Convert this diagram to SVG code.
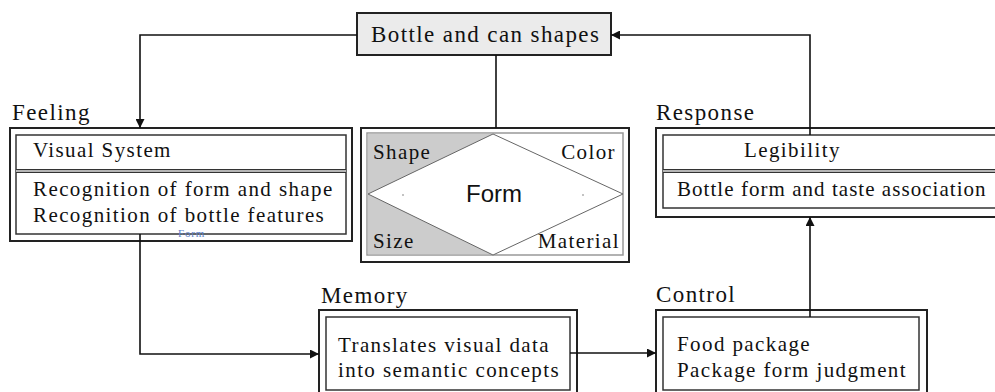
<svg xmlns="http://www.w3.org/2000/svg" width="995" height="392" viewBox="0 0 995 392">
  <defs>
    <marker id="arrow" viewBox="0 0 10 10" refX="10" refY="5" markerWidth="10" markerHeight="9" markerUnits="userSpaceOnUse" orient="auto">
      <path d="M0,0 L10,5 L0,10 Z" fill="#111"/>
    </marker>
  </defs>
  <style>
    .outer { fill: #fff; stroke: #222; stroke-width: 2; }
    .inner { fill: #fff; stroke: #333; stroke-width: 1.5; }
    .divider { stroke: #333; stroke-width: 1.2; }
    .divfill { fill: #b5b5b5; }
    .label { font-family: "Liberation Serif", "Times New Roman", serif; font-size: 23px; letter-spacing: 1.4px; fill: #111; }
    .txt { font-family: "Liberation Serif", "Times New Roman", serif; font-size: 21px; letter-spacing: 1.4px; fill: #111; }
    .conn { fill: none; stroke: #111; stroke-width: 1.6; }
  </style>
  <rect x="0" y="0" width="995" height="392" fill="#fff"/>

  <!-- top node -->
  <g id="bottle-can-shapes">
    <rect x="357" y="13" width="254" height="42" fill="#ebebeb" stroke="#222" stroke-width="2"/>
    <text x="371" y="42" class="label">Bottle and can shapes</text>
  </g>

  <!-- Feeling -->
  <g id="feeling">
    <text x="12" y="120" class="label">Feeling</text>
    <rect x="10" y="128" width="342" height="113" class="outer"/>
    <rect x="16" y="135" width="330" height="99" class="inner"/>
    <rect x="16" y="169.5" width="330" height="3" class="divfill"/>
    <line x1="16" y1="169.5" x2="346" y2="169.5" class="divider"/>
    <line x1="16" y1="172.5" x2="346" y2="172.5" class="divider"/>
    <text x="33" y="157" class="txt">Visual System</text>
    <text x="33" y="196" class="txt">Recognition of form and shape</text>
    <text x="33" y="222" class="txt">Recognition of bottle features</text>
    <text x="178" y="237" font-family="Liberation Serif, serif" font-size="11" letter-spacing="0.8" fill="#5b7fc7">Form</text>
  </g>

  <!-- Form attributes -->
  <g id="form">
    <rect x="361" y="128" width="268" height="134" class="outer"/>
    <rect x="367" y="133" width="256" height="122" fill="#fff" stroke="#999" stroke-width="1.5"/>
    <rect x="367.8" y="133.8" width="125.2" height="120.4" fill="#cccccc"/>
    <polygon points="493,134 623,194 493,255 368,194" fill="#fff" stroke="#666" stroke-width="1"/>
    <circle cx="403" cy="195" r="0.8" fill="#777"/>
    <circle cx="583" cy="195" r="0.8" fill="#777"/>
    <text x="373" y="159" class="txt">Shape</text>
    <text x="616" y="159" class="txt" text-anchor="end">Color</text>
    <text x="373" y="248" class="txt">Size</text>
    <text x="620" y="248" class="txt" text-anchor="end">Material</text>
    <text x="494" y="202" font-family="Liberation Sans, Arial, sans-serif" font-size="24" fill="#111" text-anchor="middle">Form</text>
  </g>

  <!-- Response -->
  <g id="response">
    <text x="656" y="120" class="label">Response</text>
    <rect x="656" y="128" width="360" height="89" class="outer"/>
    <rect x="663" y="135" width="350" height="73" class="inner"/>
    <rect x="663" y="169.5" width="350" height="3" class="divfill"/>
    <line x1="663" y1="169.5" x2="1013" y2="169.5" class="divider"/>
    <line x1="663" y1="172.5" x2="1013" y2="172.5" class="divider"/>
    <text x="744" y="157" class="txt">Legibility</text>
    <text x="677" y="196" class="txt" letter-spacing="0" textLength="310" lengthAdjust="spacing">Bottle form and taste association</text>
  </g>

  <!-- Memory -->
  <g id="memory">
    <text x="321" y="303" class="label">Memory</text>
    <rect x="319" y="310" width="258" height="90" class="outer"/>
    <rect x="326" y="317" width="244" height="73" class="inner"/>
    <text x="338" y="352" class="txt">Translates visual data</text>
    <text x="338" y="377" class="txt">into semantic concepts</text>
  </g>

  <!-- Control -->
  <g id="control">
    <text x="656" y="302" class="label">Control</text>
    <rect x="656" y="310" width="271" height="90" class="outer"/>
    <rect x="663" y="317" width="256" height="73" class="inner"/>
    <text x="677" y="351" class="txt">Food package</text>
    <text x="677" y="377" class="txt">Package form judgment</text>
  </g>

  <!-- connectors -->
  <g id="connectors">
    <path d="M357,35 H140 V128" class="conn" marker-end="url(#arrow)"/>
    <path d="M496,55 V128" class="conn"/>
    <path d="M810,135 V35 H611" class="conn" marker-end="url(#arrow)"/>
    <path d="M140,234 V354 H319" class="conn" marker-end="url(#arrow)"/>
    <path d="M570,353 H656" class="conn" marker-end="url(#arrow)"/>
    <path d="M810,317 V217" class="conn" marker-end="url(#arrow)"/>
  </g>
</svg>
